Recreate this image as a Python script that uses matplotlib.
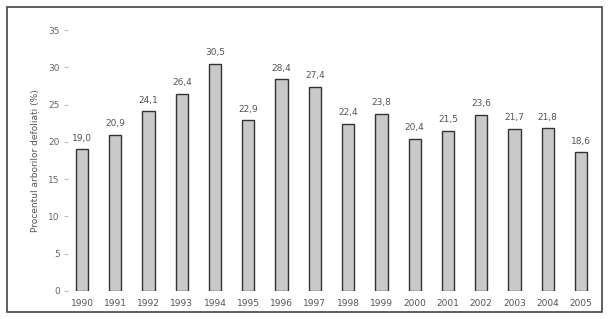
import matplotlib
matplotlib.use("Agg")
import matplotlib.pyplot as plt
from matplotlib.patches import Rectangle

years = ["1990", "1991", "1992", "1993", "1994", "1995", "1996", "1997",
         "1998", "1999", "2000", "2001", "2002", "2003", "2004", "2005"]
values = [19.0, 20.9, 24.1, 26.4, 30.5, 22.9, 28.4, 27.4,
          22.4, 23.8, 20.4, 21.5, 23.6, 21.7, 21.8, 18.6]
labels = ["19,0", "20,9", "24,1", "26,4", "30,5", "22,9", "28,4", "27,4",
          "22,4", "23,8", "20,4", "21,5", "23,6", "21,7", "21,8", "18,6"]
yticks = [0, 5, 10, 15, 20, 25, 30, 35]
ylabel = "Procentul arborilor defoliați (%)"

W, H = 609, 319
fig = plt.figure(figsize=(W / 100, H / 100), dpi=100)
fig.patch.set_facecolor("white")

# outer frame
fig.patches.append(Rectangle((7 / W, 7 / H), (602 - 7) / W, (312 - 7) / H,
                             transform=fig.transFigure, fill=False,
                             edgecolor="#444444", linewidth=1.2))

ax = fig.add_axes([68 / W, (H - 291) / H, (598 - 68) / W, (291 - 30) / H])
x = list(range(len(years)))
ax.bar(x, values, width=0.37, color="#c9c9c9", edgecolor="#333333", linewidth=1.0)
for xi, v, lab in zip(x, values, labels):
    ax.text(xi, v + 0.9, lab, ha="center", va="bottom", fontsize=6.5, color="#555555")

ax.set_xlim(-0.42, 15.51)
ax.set_ylim(0, 35)
ax.set_yticks(yticks)
ax.set_yticklabels([str(t) for t in yticks], fontsize=6.5, color="#666666")
ax.set_xticks(x)
ax.set_xticklabels(years, fontsize=6.5, color="#555555")
ax.tick_params(axis="x", length=0, pad=6)
ax.tick_params(axis="y", length=3, color="#bbbbbb", pad=3)
for s in ["top", "right", "bottom", "left"]:
    ax.spines[s].set_visible(False)
ax.axhline(0, color="#bbbbbb", linewidth=0.6)
ax.set_ylabel(ylabel, fontsize=6.5, color="#555555", labelpad=6)

fig.savefig("out.png", dpi=100)
